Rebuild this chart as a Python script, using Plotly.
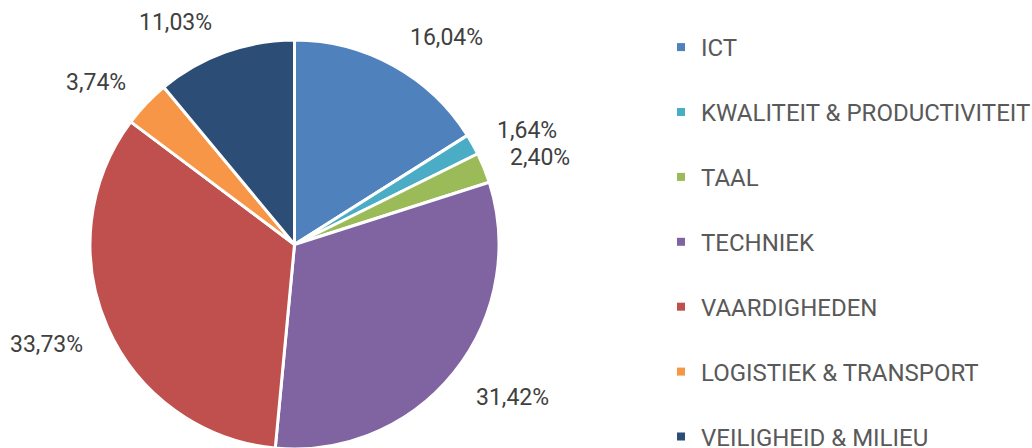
import math
import plotly.graph_objects as go

categories = ["ICT", "KWALITEIT & PRODUCTIVITEIT", "TAAL", "TECHNIEK",
              "VAARDIGHEDEN", "LOGISTIEK & TRANSPORT", "VEILIGHEID & MILIEU"]
values = [16.04, 1.64, 2.40, 31.42, 33.73, 3.74, 11.03]
colors = ["#4F81BD", "#4BACC6", "#9BBB59", "#8064A2", "#C0504D", "#F79646", "#2C4D75"]

# Figure is drawn a little larger than the 1032x448 window; the page body margin
# is removed so that the visible window shows the top-left part (as in the original,
# where the bottom of the pie and legend is cropped).
W, H = 1060, 480
pie_left, pie_top, pie_d = 90.0, 40.0, 409.0
dom_x = [pie_left / W, (pie_left + pie_d) / W]
dom_y = [1 - (pie_top + pie_d) / H, 1 - pie_top / H]
cx = pie_left + pie_d / 2
cy = pie_top + pie_d / 2
R = pie_d / 2

fig = go.Figure()
fig.add_trace(go.Pie(
    labels=categories, values=values, sort=False, direction="clockwise", rotation=0,
    marker=dict(colors=colors, line=dict(color="white", width=3)),
    textinfo="none", hoverinfo="label+percent", showlegend=False,
    domain=dict(x=dom_x, y=dom_y),
))

# percentage labels placed outside each slice, derived from the data
total = sum(values)
cum = 0.0
annotations = []
for v in values:
    mid = (cum + v / 2) / total * 2 * math.pi
    cum += v
    s, c = math.sin(mid), math.cos(mid)
    txt = f"{v:.2f}%".replace(".", ",")
    r = R + 20
    px = cx + r * s + (5 if s >= 0 else -4)
    py = cy - r * c - c * 15 + 3
    annotations.append(dict(x=px / W, y=1 - py / H, xref="paper", yref="paper",
                            text=txt, showarrow=False,
                            xanchor="left" if s >= 0 else "right", yanchor="middle",
                            font=dict(size=23, color="#404040", family="Roboto")))

# legend entries
for name, col in zip(categories, colors):
    fig.add_trace(go.Scatter(x=[None], y=[None], mode="markers", name=name,
                             legendgroup=name,
                             marker=dict(symbol="square", size=8, color=col)))

fig.update_layout(
    width=W, height=H,
    margin=dict(l=0, r=0, t=0, b=0),
    paper_bgcolor="white", plot_bgcolor="white",
    separators=",.",
    annotations=annotations,
    xaxis=dict(visible=False), yaxis=dict(visible=False),
    showlegend=True,
    legend=dict(x=661 / W, y=1 - 25 / H, xanchor="left", yanchor="top",
                tracegroupgap=30.7,
                font=dict(size=24, color="#595959", family="Roboto")),
    font=dict(family="Roboto"),
)

fig.write_html(
    "out.html",
    config={"displayModeBar": False},
    post_script="document.body.style.margin='0';document.body.style.overflow='hidden';",
)
